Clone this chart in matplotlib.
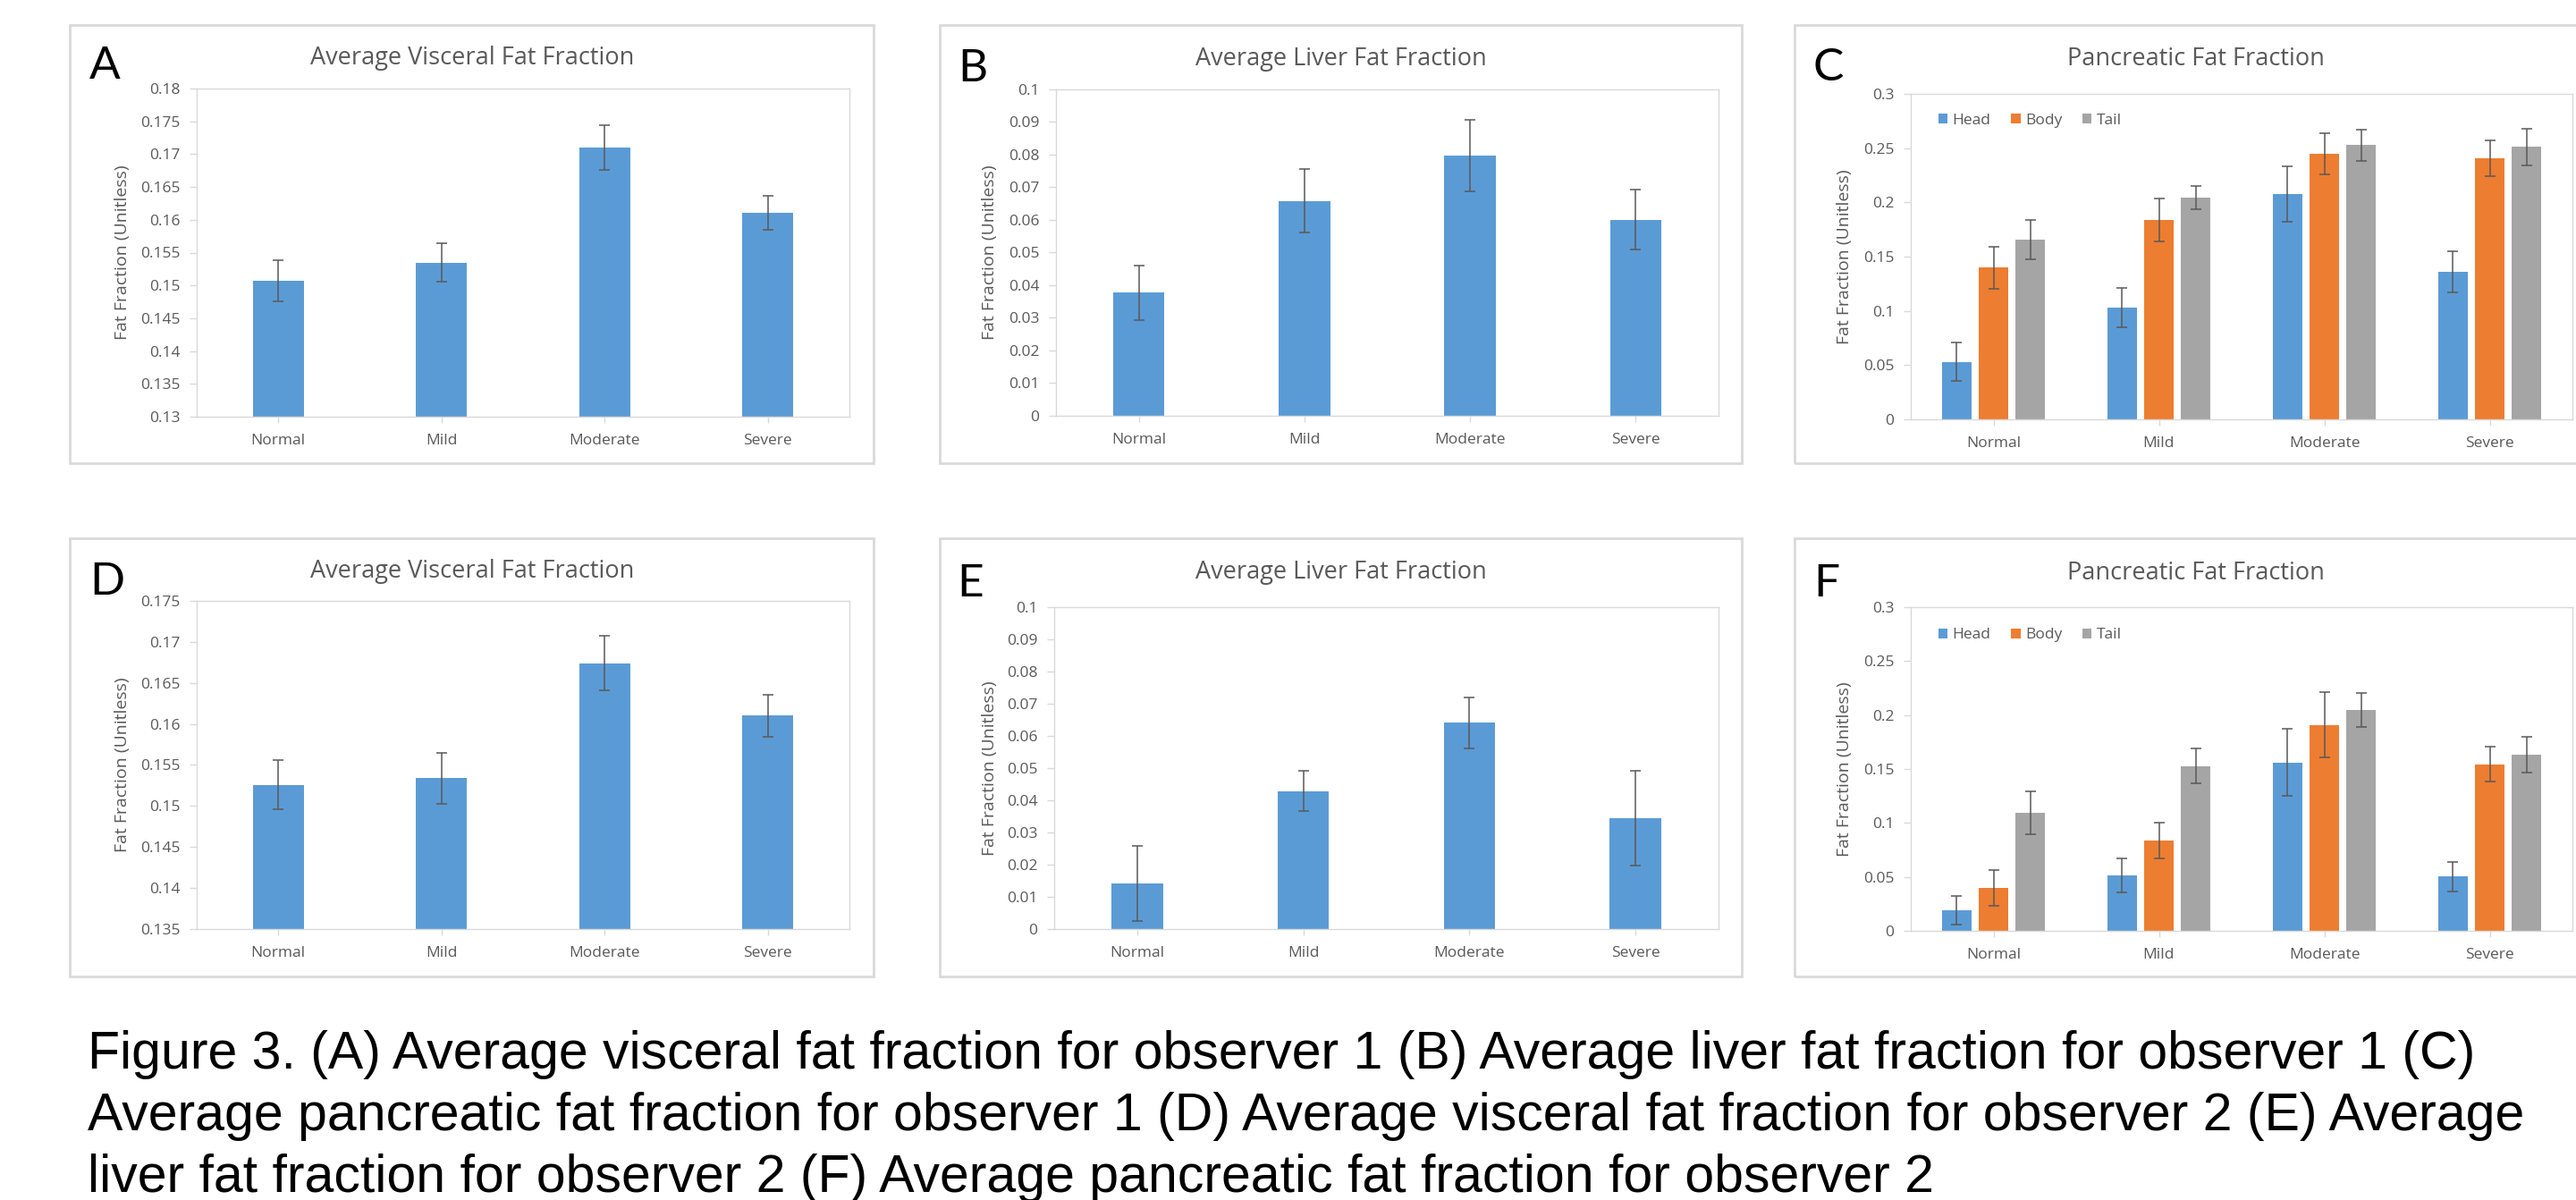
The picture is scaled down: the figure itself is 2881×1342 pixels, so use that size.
#!/usr/bin/env python3
import numpy as np
import matplotlib
matplotlib.use("Agg")
import matplotlib.pyplot as plt
from matplotlib.patches import Rectangle
from matplotlib.ticker import FuncFormatter

# -----------------------------
# Data
# -----------------------------
categories = ["Normal", "Mild", "Moderate", "Severe"]
segments = ["Head", "Body", "Tail"]

# observer 1
visceral_obs1 = [0.1507, 0.1535, 0.1710, 0.1611]
visceral_obs1_err = [0.0031, 0.0029, 0.0034, 0.0026]
liver_obs1 = [0.0377, 0.0658, 0.0798, 0.0601]
liver_obs1_err = [0.0084, 0.0097, 0.0109, 0.0091]
head_obs1 = [0.0530, 0.1031, 0.2076, 0.1360]
head_obs1_err = [0.0176, 0.0184, 0.0258, 0.0190]
body_obs1 = [0.1397, 0.1839, 0.2448, 0.2408]
body_obs1_err = [0.0197, 0.0197, 0.0187, 0.0165]
tail_obs1 = [0.1657, 0.2042, 0.2527, 0.2510]
tail_obs1_err = [0.0184, 0.0107, 0.0145, 0.0167]

# observer 2
visceral_obs2 = [0.1526, 0.1534, 0.1674, 0.1610]
visceral_obs2_err = [0.0030, 0.0031, 0.0033, 0.0026]
liver_obs2 = [0.0142, 0.0429, 0.0641, 0.0345]
liver_obs2_err = [0.0116, 0.0063, 0.0079, 0.0147]
head_obs2 = [0.0191, 0.0516, 0.1560, 0.0505]
head_obs2_err = [0.0134, 0.0157, 0.0311, 0.0137]
body_obs2 = [0.0399, 0.0838, 0.1910, 0.1543]
body_obs2_err = [0.0164, 0.0167, 0.0301, 0.0161]
tail_obs2 = [0.1092, 0.1528, 0.2047, 0.1631]
tail_obs2_err = [0.0201, 0.0160, 0.0158, 0.0164]

caption_lines = [
    "Figure 3. (A) Average visceral fat fraction for observer 1 (B) Average liver fat fraction for observer 1 (C)",
    "Average pancreatic fat fraction for observer 1 (D) Average visceral fat fraction for observer 2 (E) Average",
    "liver fat fraction for observer 2 (F) Average pancreatic fat fraction for observer 2",
]

# -----------------------------
# Style
# -----------------------------
W, H = 2881, 1342
BLUE, ORANGE, GRAY = "#5B9BD5", "#ED7D31", "#A5A5A5"
TXT = "#595959"
LINE = "#D9D9D9"
ERR = "#595959"
FONT = ["Open Sans", "DejaVu Sans"]
LETTER_FONT = ["Lato", "DejaVu Sans"]

fig = plt.figure(figsize=(W / 100, H / 100), dpi=100)


def px_axes(x0, y0, x1, y1):
    return fig.add_axes([x0 / W, 1 - y1 / H, (x1 - x0) / W, (y1 - y0) / H])


def frame(x0, y0, x1, y1):
    fig.patches.append(Rectangle((x0 / W, 1 - y1 / H), (x1 - x0) / W, (y1 - y0) / H,
                                 transform=fig.transFigure, fill=False,
                                 edgecolor=LINE, linewidth=2.0, zorder=0))


def fmt(v, pos):
    return "%g" % round(v, 4)


def style_axes(ax, ylim, step):
    ax.set_xlim(-0.5, 3.5)
    ax.set_ylim(*ylim)
    ax.set_yticks(np.round(np.arange(ylim[0], ylim[1] + step / 2, step), 4))
    ax.yaxis.set_major_formatter(FuncFormatter(fmt))
    ax.set_xticks(range(len(categories)))
    ax.set_xticklabels(categories)
    for s in ax.spines.values():
        s.set_color(LINE)
        s.set_linewidth(1.0)
    ax.tick_params(axis="y", length=5.5, width=1.0, color=LINE, pad=8,
                   labelsize=12.5, labelcolor=TXT)
    ax.tick_params(axis="x", length=5, width=1.0, color=LINE, pad=9,
                   labelsize=12.5, labelcolor=TXT)
    for lab in ax.get_xticklabels() + ax.get_yticklabels():
        lab.set_family(FONT)
    ax.set_ylabel("Fat Fraction (Unitless)", fontsize=14, color=TXT, family=FONT)


def single_panel(ax, vals, errs, ylim, step):
    x = np.arange(len(categories))
    ax.bar(x, vals, width=0.31, color=BLUE, zorder=2)
    ax.errorbar(x, vals, yerr=errs, fmt="none", ecolor=ERR, elinewidth=1.1,
                capsize=4, capthick=1.1, zorder=3)
    style_axes(ax, ylim, step)


def triple_panel(ax, series, errs, ylim, step, legend_y):
    x = np.arange(len(categories))
    colors = [BLUE, ORANGE, GRAY]
    for i, (vals, err) in enumerate(zip(series, errs)):
        xs = x + (i - 1) * 0.222
        ax.bar(xs, vals, width=0.178, color=colors[i], label=segments[i], zorder=2)
        ax.errorbar(xs, vals, yerr=err, fmt="none", ecolor=ERR, elinewidth=1.1,
                    capsize=4, capthick=1.1, zorder=3)
    style_axes(ax, ylim, step)
    ax.legend(loc="center left", bbox_to_anchor=(0.042, legend_y), ncol=3,
              frameon=False, borderpad=0, borderaxespad=0, handlelength=0.6,
              handleheight=0.6, handletextpad=0.3, columnspacing=1.3,
              prop={"family": FONT, "size": 12.5}, labelcolor=TXT)


def panel_text(letter, lx, lbase, title, tx, ty, ylab_x, ax):
    fig.text(lx / W, 1 - lbase / H, letter, fontsize=37, family=LETTER_FONT,
             color="black", va="baseline", ha="left")
    fig.text(tx / W, 1 - ty / H, title, fontsize=19.5, family=FONT,
             color=TXT, va="center", ha="center")
    ax.yaxis.label.set_verticalalignment("center")
    pos = ax.get_position()
    ax.yaxis.set_label_coords(ylab_x / W, pos.y0 + pos.height / 2,
                              transform=fig.transFigure)


# -----------------------------
# Panel frames
# -----------------------------
frame(78, 28, 977, 518)
frame(1051, 28, 1948, 518)
frame(2007, 28, 2905, 518)
frame(78, 602, 977, 1092)
frame(1051, 602, 1948, 1092)
frame(2007, 602, 2905, 1092)

# -----------------------------
# Top row: observer 1
# -----------------------------
axA = px_axes(220, 99, 950, 466)
single_panel(axA, visceral_obs1, visceral_obs1_err, (0.13, 0.18), 0.005)
panel_text("A", 100, 88, "Average Visceral Fat Fraction", 528, 65, 137, axA)

axB = px_axes(1181, 100, 1922, 465)
single_panel(axB, liver_obs1, liver_obs1_err, (0.0, 0.1), 0.01)
panel_text("B", 1071, 91, "Average Liver Fat Fraction", 1500, 66, 1107, axB)

axC = px_axes(2137, 105, 2877, 469)
triple_panel(axC, [head_obs1, body_obs1, tail_obs1],
             [head_obs1_err, body_obs1_err, tail_obs1_err], (0.0, 0.3), 0.05, 0.918)
panel_text("C", 2028, 90, "Pancreatic Fat Fraction", 2456, 66, 2063, axC)

# -----------------------------
# Bottom row: observer 2
# -----------------------------
axD = px_axes(220, 672, 950, 1039)
single_panel(axD, visceral_obs2, visceral_obs2_err, (0.135, 0.175), 0.005)
panel_text("D", 100, 665, "Average Visceral Fat Fraction", 528, 639, 137, axD)

axE = px_axes(1179, 679, 1922, 1039)
single_panel(axE, liver_obs2, liver_obs2_err, (0.0, 0.1), 0.01)
panel_text("E", 1070, 667, "Average Liver Fat Fraction", 1500, 640, 1107, axE)

axF = px_axes(2137, 679, 2877, 1041)
triple_panel(axF, [head_obs2, body_obs2, tail_obs2],
             [head_obs2_err, body_obs2_err, tail_obs2_err], (0.0, 0.3), 0.05, 0.914)
panel_text("F", 2028, 667, "Pancreatic Fat Fraction", 2456, 641, 2063, axF)

# -----------------------------
# Caption
# -----------------------------
for line, base in zip(caption_lines, [1195, 1264, 1333]):
    fig.text(98 / W, 1 - base / H, line, fontsize=42.5,
             family=["Liberation Sans", "DejaVu Sans"],
             color="black", va="baseline", ha="left")

fig.savefig("out.png", dpi=100, facecolor="white")
print("Saved: out.png")
